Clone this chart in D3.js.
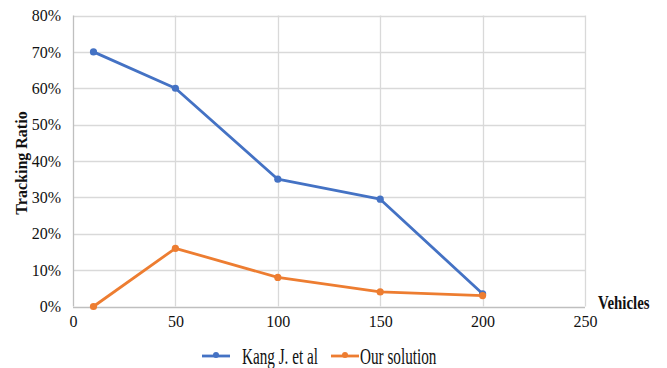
<!DOCTYPE html>
<html>
<head>
<meta charset="utf-8">
<script src="https://cdn.jsdelivr.net/npm/d3@7/dist/d3.min.js"></script>
<style>
  html, body { margin: 0; padding: 0; background: #fff; }
  svg { display: block; }
  text { font-family: "Liberation Serif", "Times New Roman", serif; fill: #111; }
</style>
</head>
<body>
<svg id="chart" width="667" height="368"></svg>
<script>
// Tracking ratio per vehicle count, two approaches
const vehicles = [10, 50, 100, 150, 200];
const kangValues = [0.70, 0.60, 0.35, 0.295, 0.035];
const oursValues = [0.00, 0.16, 0.08, 0.04, 0.03];
const seriesNames = ["Kang J. et al", "Our solution"];
const seriesColors = ["#4472C4", "#ED7D31"];
const xTicks = [0, 50, 100, 150, 200, 250];
const yTicks = [0, 0.1, 0.2, 0.3, 0.4, 0.5, 0.6, 0.7, 0.8];

const svg = d3.select("#chart");
const plotLeft = 73, plotRight = 585, plotTop = 15.5, plotBottom = 306.5;

const x = d3.scaleLinear().domain([0, 250]).range([plotLeft, plotRight]);
const y = d3.scaleLinear().domain([0, 0.8]).range([plotBottom, plotTop]);

// grid
const grid = svg.append("g");
grid.selectAll("line.h").data(yTicks).join("line")
  .attr("x1", plotLeft).attr("x2", plotRight)
  .attr("y1", d => Math.round(y(d)) + 0.5).attr("y2", d => Math.round(y(d)) + 0.5)
  .attr("stroke", d => d === 0 ? "#bfbfbf" : "#d9d9d9").attr("stroke-width", 1.3);
grid.selectAll("line.v").data(xTicks).join("line")
  .attr("y1", plotTop).attr("y2", plotBottom)
  .attr("x1", d => Math.round(x(d)) + 0.5).attr("x2", d => Math.round(x(d)) + 0.5)
  .attr("stroke", d => d === 0 ? "#bfbfbf" : "#d9d9d9").attr("stroke-width", 1.3);

// axes (labels only)
const yAxis = d3.axisLeft(y).tickValues(yTicks).tickFormat(d3.format(".0%")).tickSize(0).tickPadding(12);
svg.append("g").attr("transform", `translate(${plotLeft},0)`).call(yAxis)
  .call(g => g.select(".domain").remove())
  .selectAll("text").attr("font-size", 16).attr("font-family", "Liberation Serif").attr("fill", "#111");

const xAxis = d3.axisBottom(x).tickValues(xTicks).tickFormat(d3.format("d")).tickSize(0).tickPadding(9);
svg.append("g").attr("transform", `translate(0,${plotBottom})`).call(xAxis)
  .call(g => g.select(".domain").remove())
  .selectAll("text").attr("font-size", 16).attr("font-family", "Liberation Serif").attr("fill", "#111");

// axis titles
svg.append("text")
  .attr("transform", `translate(27,${(plotTop + plotBottom) / 2 + 2}) rotate(-90)`)
  .attr("text-anchor", "middle").attr("font-weight", "bold").attr("font-size", 16)
  .text("Tracking Ratio");
svg.append("text")
  .attr("transform", "translate(598,309) scale(0.93,1.12)")
  .attr("font-weight", "bold").attr("font-size", 16)
  .text("Vehicles");

// series
const line = d3.line().x((d, i) => x(vehicles[i])).y(d => y(d));
[kangValues, oursValues].forEach((vals, k) => {
  svg.append("path").datum(vals)
    .attr("d", line).attr("fill", "none")
    .attr("stroke", seriesColors[k]).attr("stroke-width", 2.8)
    .attr("stroke-linejoin", "round");
  svg.append("g").selectAll("circle").data(vals).join("circle")
    .attr("cx", (d, i) => x(vehicles[i])).attr("cy", d => y(d))
    .attr("r", 3.6).attr("fill", seriesColors[k]);
});

// legend
const legend = svg.append("g");
const legendItems = [{x: 202, tx: 242}, {x: 331, tx: 360}];
seriesNames.forEach((name, k) => {
  const it = legendItems[k];
  legend.append("line")
    .attr("x1", it.x).attr("x2", it.x + 28).attr("y1", 356).attr("y2", 356)
    .attr("stroke", seriesColors[k]).attr("stroke-width", 2.8);
  legend.append("circle").attr("cx", it.x + 14).attr("cy", 355).attr("r", 3).attr("fill", seriesColors[k]);
  legend.append("text")
    .attr("transform", `translate(${it.tx},364) scale(0.95,1.4)`)
    .attr("font-size", 16).text(name);
});
</script>
</body>
</html>
